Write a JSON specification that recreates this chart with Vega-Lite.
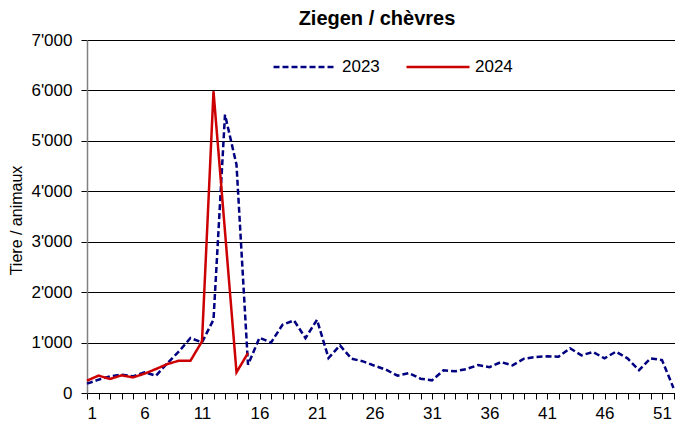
{
  "$schema": "https://vega.github.io/schema/vega-lite/v6.json",
  "width": 588,
  "height": 353,
  "autosize": {"type": "none"},
  "padding": {"left": 87, "top": 40, "right": 0, "bottom": 28},
  "background": "white",
  "config": {
    "font": "Liberation Sans",
    "view": {"stroke": null}
  },
  "title": {
    "text": "Ziegen / chèvres",
    "font": "Liberation Sans",
    "fontSize": 20,
    "fontWeight": "bold",
    "color": "#000",
    "anchor": "middle",
    "dx": -4,
    "offset": 2
  },
  "data": {
    "values": [
      {"week": 1, "year": "2023", "value": 185},
      {"week": 2, "year": "2023", "value": 264},
      {"week": 3, "year": "2023", "value": 330},
      {"week": 4, "year": "2023", "value": 363},
      {"week": 5, "year": "2023", "value": 330},
      {"week": 6, "year": "2023", "value": 410},
      {"week": 7, "year": "2023", "value": 344},
      {"week": 8, "year": "2023", "value": 595},
      {"week": 9, "year": "2023", "value": 826},
      {"week": 10, "year": "2023", "value": 1090},
      {"week": 11, "year": "2023", "value": 1005},
      {"week": 12, "year": "2023", "value": 1454},
      {"week": 13, "year": "2023", "value": 5519},
      {"week": 14, "year": "2023", "value": 4527},
      {"week": 15, "year": "2023", "value": 562},
      {"week": 16, "year": "2023", "value": 1095},
      {"week": 17, "year": "2023", "value": 1000},
      {"week": 18, "year": "2023", "value": 1353},
      {"week": 19, "year": "2023", "value": 1439},
      {"week": 20, "year": "2023", "value": 1089},
      {"week": 21, "year": "2023", "value": 1452},
      {"week": 22, "year": "2023", "value": 693},
      {"week": 23, "year": "2023", "value": 944},
      {"week": 24, "year": "2023", "value": 680},
      {"week": 25, "year": "2023", "value": 627},
      {"week": 26, "year": "2023", "value": 541},
      {"week": 27, "year": "2023", "value": 462},
      {"week": 28, "year": "2023", "value": 343},
      {"week": 29, "year": "2023", "value": 396},
      {"week": 30, "year": "2023", "value": 284},
      {"week": 31, "year": "2023", "value": 251},
      {"week": 32, "year": "2023", "value": 449},
      {"week": 33, "year": "2023", "value": 430},
      {"week": 34, "year": "2023", "value": 475},
      {"week": 35, "year": "2023", "value": 553},
      {"week": 36, "year": "2023", "value": 513},
      {"week": 37, "year": "2023", "value": 613},
      {"week": 38, "year": "2023", "value": 547},
      {"week": 39, "year": "2023", "value": 680},
      {"week": 40, "year": "2023", "value": 713},
      {"week": 41, "year": "2023", "value": 727},
      {"week": 42, "year": "2023", "value": 720},
      {"week": 43, "year": "2023", "value": 887},
      {"week": 44, "year": "2023", "value": 747},
      {"week": 45, "year": "2023", "value": 813},
      {"week": 46, "year": "2023", "value": 687},
      {"week": 47, "year": "2023", "value": 820},
      {"week": 48, "year": "2023", "value": 687},
      {"week": 49, "year": "2023", "value": 453},
      {"week": 50, "year": "2023", "value": 687},
      {"week": 51, "year": "2023", "value": 653},
      {"week": 52, "year": "2023", "value": 100},
      {"week": 1, "year": "2024", "value": 245},
      {"week": 2, "year": "2024", "value": 344},
      {"week": 3, "year": "2024", "value": 278},
      {"week": 4, "year": "2024", "value": 350},
      {"week": 5, "year": "2024", "value": 310},
      {"week": 6, "year": "2024", "value": 383},
      {"week": 7, "year": "2024", "value": 476},
      {"week": 8, "year": "2024", "value": 575},
      {"week": 9, "year": "2024", "value": 641},
      {"week": 10, "year": "2024", "value": 641},
      {"week": 11, "year": "2024", "value": 1024},
      {"week": 12, "year": "2024", "value": 5981},
      {"week": 13, "year": "2024", "value": 3200},
      {"week": 14, "year": "2024", "value": 410},
      {"week": 15, "year": "2024", "value": 793}
    ]
  },
  "mark": {"type": "line", "strokeWidth": 2.5, "strokeCap": "butt", "strokeJoin": "miter"},
  "encoding": {
    "x": {
      "field": "week",
      "type": "quantitative",
      "scale": {"domain": [1, 52.13], "nice": false, "zero": false},
      "axis": {
        "title": null,
        "grid": false,
        "values": [1,2,3,4,5,6,7,8,9,10,11,12,13,14,15,16,17,18,19,20,21,22,23,24,25,26,27,28,29,30,31,32,33,34,35,36,37,38,39,40,41,42,43,44,45,46,47,48,49,50,51,52],
        "labelExpr": "datum.value % 5 == 1 ? datum.label : ''",
        "labelOverlap": false,
        "labelFontSize": 17,
        "labelColor": "#000",
        "labelPadding": 6,
        "tickSize": 6,
        "tickColor": "#000",
        "domainColor": "#000",
        "domainWidth": 1
      }
    },
    "y": {
      "field": "value",
      "type": "quantitative",
      "scale": {"domain": [0, 7000], "nice": false},
      "axis": {
        "title": "Tiere / animaux",
        "titleFontSize": 16,
        "titleFontWeight": "normal",
        "titleColor": "#000",
        "titleAngle": -90,
        "titleAlign": "center",
        "titleBaseline": "alphabetic",
        "titleX": -66,
        "titleY": 180,
        "values": [0, 1000, 2000, 3000, 4000, 5000, 6000, 7000],
        "labelExpr": "replace(format(datum.value, ','), ',', \"'\")",
        "labelFontSize": 17,
        "labelColor": "#000",
        "labelPadding": 9,
        "tickSize": 6,
        "tickColor": "#000",
        "domainColor": "#808080",
        "domainWidth": 1.5,
        "grid": true,
        "gridColor": "#000",
        "gridWidth": 1
      }
    },
    "color": {
      "field": "year",
      "type": "nominal",
      "scale": {"domain": ["2023", "2024"], "range": ["#000080", "#CC0000"]},
      "legend": {
        "title": null,
        "orient": "none",
        "legendX": 185,
        "legendY": -6,
        "direction": "horizontal",
        "columns": 2,
        "symbolType": "stroke",
        "symbolSize": 3969,
        "symbolStrokeWidth": 2.5,
        "labelFontSize": 17,
        "labelColor": "#000",
        "labelOffset": 4,
        "columnPadding": 21
      }
    },
    "strokeDash": {
      "field": "year",
      "type": "nominal",
      "scale": {"domain": ["2023", "2024"], "range": [[6, 3], [1, 0]]},
      "legend": {
        "title": null,
        "orient": "none",
        "legendX": 185,
        "legendY": -6,
        "direction": "horizontal",
        "columns": 2,
        "symbolType": "stroke",
        "symbolSize": 3969,
        "symbolStrokeWidth": 2.5,
        "labelFontSize": 17,
        "labelColor": "#000",
        "labelOffset": 4,
        "columnPadding": 21
      }
    }
  }
}
